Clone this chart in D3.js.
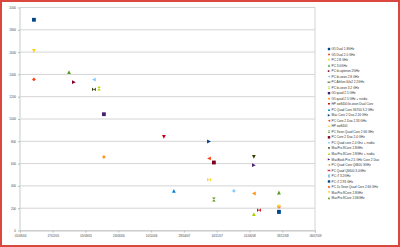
<!DOCTYPE html>
<html><head><meta charset="utf-8">
<script src="https://cdn.jsdelivr.net/npm/d3@7"></script>
<style>html,body{margin:0;padding:0;background:#fff;}svg{display:block;}</style>
</head><body>
<svg id="c" width="400" height="247"></svg>
<script>
const seriesNames = ["G5 Dual 1.8GHz","G5 Dual 2.0 GHz","PC 2.8 GHz","PC 3.0GHz","PC bi-opteron 2GHz","PC bi-xeon 2.8 GHz","PC Athlon 64x2 2.2GHz","PC bi-xeon 3.2 GHz","G5 quad 2.5 GHz","G5 quad 2.5 GHz + nvidia","HP xw8400 bi-xeon Dual Core","PC Quad Core X6700 3.2 GHz","Mac Core 2 Duo 2.16 GHz","PC Core 2 Duo 2.33 GHz","HP xw8400","PC Xeon Quad Core 2.66 GHz","PC Core 2 Duo 2.4 GHz","PC Quad core 2.4 Ghz + nvidia","MacPro 8Core 2.8GHz","MacPro 8Core 2.8GHz + nvidia","MacBook Pro 2.5 GHz Core 2 Duo","PC Quad Core Q6600 3GHz","PC Quad Q6600 3.0GHz","PC i7 3.2GHz","PC i7 2.93 GHz","PC 2x Xeon Quad Core 2.66 GHz","MacPro 8Core 2.8GHz","MacPro 8Core 2.66GHz"];
const seriesDates = ["2004-10-25","2004-10-25","2004-10-25","2005-05-27","2005-06-26","2005-10-26","2005-10-26","2005-11-26","2005-12-26","2005-12-26","2006-12-27","2007-02-26","2007-09-28","2007-09-28","2007-09-28","2007-10-28","2007-10-28","2008-02-27","2008-06-28","2008-06-28","2008-06-28","2008-06-28","2008-07-29","2008-11-28","2008-11-28","2008-11-28","2008-11-28","2008-11-28"];
const seriesValues = [1890,1355,1610,1420,1330,1354,1265,1273,1043,660,840,355,798,646,457,278,610,355,660,146,586,332,182,168,167,212,214,341];
const xTickLabels = ["01/08/04","17/02/05","05/09/05","24/03/06","10/10/06","28/04/07","14/11/07","01/06/08","18/12/08","06/07/09"];
const yTicks = [0,200,400,600,800,1000,1200,1400,1600,1800,2000];

const palette = ["#004586","#ff420e","#ffd320","#579d1c","#7e0021","#83caff","#314004","#aecf00","#4b1f6f","#ff950e","#c5000b","#0084d1"];
const shapes = ["square","diamond","down","up","right","left","bowtie","hourglass"];

function shapePath(t, r){
  switch(t){
    case "square": return `M${-r},${-r}H${r}V${r}H${-r}Z`;
    case "diamond": return `M0,${-r}L${r},0L0,${r}L${-r},0Z`;
    case "down": return `M${-r},${-r}H${r}L0,${r}Z`;
    case "up": return `M${-r},${r}H${r}L0,${-r}Z`;
    case "right": return `M${-r},${-r}L${r},0L${-r},${r}Z`;
    case "left": return `M${r},${-r}L${-r},0L${r},${r}Z`;
    case "bowtie": return `M${-r},${-r}L${r},${r}V${-r}L${-r},${r}Z`;
    case "hourglass": return `M${-r},${-r}H${r}L${-r},${r}H${r}Z`;
  }
}

const svg = d3.select("#c");
const parse = d3.utcParse("%Y-%m-%d");
const parseTick = d3.utcParse("%d/%m/%y");
const tickDates = xTickLabels.map(parseTick);

const x = d3.scaleUtc().domain([tickDates[0], tickDates[tickDates.length-1]]).range([20, 315]);
const y = d3.scaleLinear().domain([0, 2000]).range([230.5, 7.5]);

// frame
svg.append("rect").attr("x",1).attr("y",1).attr("width",398).attr("height",245)
  .attr("fill","#fff").attr("stroke","#d9473f").attr("stroke-width",2);

// gridlines
svg.append("g").selectAll("line").data(yTicks).join("line")
  .attr("x1",20).attr("x2",315)
  .attr("y1",d=>y(d)).attr("y2",d=>y(d))
  .attr("stroke","#d4d4d4").attr("stroke-width",1);

// plot borders
svg.append("line").attr("x1",20).attr("x2",20).attr("y1",y(2000)).attr("y2",y(0)).attr("stroke","#c8c8c8");
svg.append("line").attr("x1",315).attr("x2",315).attr("y1",y(2000)).attr("y2",y(0)).attr("stroke","#d4d4d4");

// y axis
const yAxis = d3.axisLeft(y).tickValues(yTicks).tickSize(2).tickPadding(2).tickFormat(d3.format("d"));
const gy = svg.append("g").attr("transform","translate(20,0)").call(yAxis);
gy.select(".domain").remove();
gy.selectAll("line").attr("stroke","#bbb");
gy.selectAll("text").attr("font-size","3px").attr("font-family","Liberation Sans, Arial, sans-serif").attr("fill","#444");

// x axis
const xAxis = d3.axisBottom(x).tickValues(tickDates).tickSize(2).tickPadding(2)
  .tickFormat((d,i)=>xTickLabels[i]);
const gx = svg.append("g").attr("transform",`translate(0,${y(0)})`).call(xAxis);
gx.select(".domain").attr("stroke","#c8c8c8");
gx.selectAll("line").attr("stroke","#bbb");
gx.selectAll("text").attr("font-size","3px").attr("font-family","Liberation Sans, Arial, sans-serif").attr("fill","#444");

// points
const pts = seriesNames.map((n,i)=>({name:n, date:parse(seriesDates[i]), value:seriesValues[i], i}));
svg.append("g").selectAll("path").data(pts).join("path")
  .attr("transform",d=>`translate(${x(d.date)},${y(d.value)})`)
  .attr("d",d=>shapePath(shapes[d.i%8], 1.9))
  .attr("fill",d=>palette[d.i%12]);

// legend
const lg = svg.append("g").attr("transform","translate(329,49)");
const items = lg.selectAll("g").data(pts).join("g")
  .attr("transform",(d,i)=>`translate(0,${i*5.52})`);
items.append("path").attr("d",d=>shapePath(shapes[d.i%8],1.2)).attr("fill",d=>palette[d.i%12]);
items.append("text").attr("x",2.6).attr("y",1.1).text(d=>d.name)
  .attr("font-size","3.1px").attr("font-family","Liberation Sans, Arial, sans-serif").attr("fill","#333");
</script>
</body></html>
